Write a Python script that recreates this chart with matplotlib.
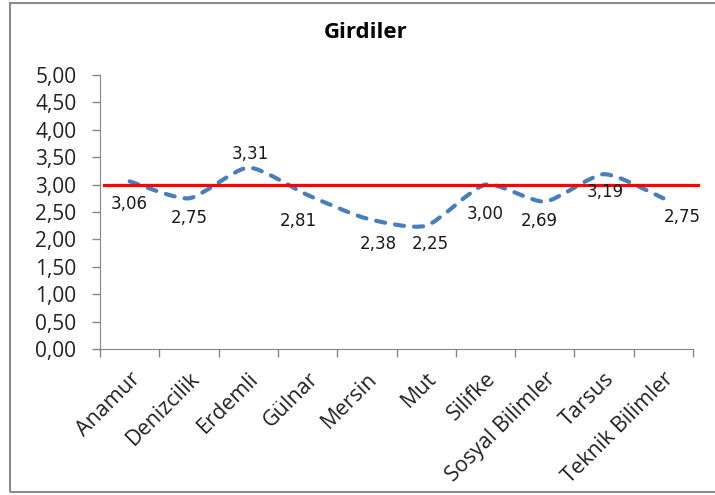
import matplotlib
matplotlib.use('Agg')
import matplotlib.pyplot as plt
from matplotlib.path import Path
from matplotlib.patches import PathPatch, Rectangle
import numpy as np

# data
categories = ['Anamur', 'Denizcilik', 'Erdemli', 'Gülnar', 'Mersin', 'Mut',
              'Silifke', 'Sosyal Bilimler', 'Tarsus', 'Teknik Bilimler']
values = [3.06, 2.75, 3.31, 2.81, 2.38, 2.25, 3.00, 2.69, 3.19, 2.75]
reference = 3.00
yticks = [0.0, 0.5, 1.0, 1.5, 2.0, 2.5, 3.0, 3.5, 4.0, 4.5, 5.0]

# label offsets (pixels) as placed in the original chart
label_offsets = [(0, -23), (0, -20), (2, 14), (-9, -26), (11, -25),
                 (4, -18), (0, -29), (-5, -19), (1, -18), (19, -19)]

plt.rcParams['font.family'] = ['Open Sans', 'DejaVu Sans']

fig = plt.figure(figsize=(7.15, 4.95), dpi=100)
fig.patches.append(Rectangle((10 / 715, 3 / 495), 1.0, 1 - 6 / 495,
                             transform=fig.transFigure, fill=False,
                             edgecolor='#8c8c8c', linewidth=1.5))
ax = fig.add_axes([100 / 715, 1 - 349 / 495, 593 / 715, 274 / 495])

x = np.arange(len(values))
y = np.array(values)

# smoothed line: bezier segments through the data points
k = 9.0
verts = [(x[0], y[0])]
codes = [Path.MOVETO]
for i in range(len(x) - 1):
    p0 = (x[i - 1], y[i - 1]) if i > 0 else (x[i], y[i])
    p1 = (x[i], y[i])
    p2 = (x[i + 1], y[i + 1])
    p3 = (x[i + 2], y[i + 2]) if i + 2 < len(x) else (x[i + 1], y[i + 1])
    c1 = (p1[0] + (p2[0] - p0[0]) / k, p1[1] + (p2[1] - p0[1]) / k)
    c2 = (p2[0] - (p3[0] - p1[0]) / k, p2[1] - (p3[1] - p1[1]) / k)
    verts += [c1, c2, p2]
    codes += [Path.CURVE4] * 3
ax.add_patch(PathPatch(Path(verts, codes), fill=False, edgecolor='#4a7ebb',
                       linewidth=3.0, linestyle=(0, (2.2, 2.4)),
                       capstyle='round', zorder=3))

ax.plot([-0.43, 9.58], [reference, reference], color='#ff0000',
        linewidth=2.3, zorder=4, clip_on=False)

for xi, v, off in zip(x, values, label_offsets):
    ax.annotate(f'{v:.2f}'.replace('.', ','), (xi, v), xytext=off,
                textcoords='offset pixels', ha='center', va='center',
                fontsize=12, family='DejaVu Sans', color='#1a1a1a', zorder=5)

ax.set_xlim(-0.5, 9.5)
ax.set_ylim(0, 5)
ax.set_yticks(yticks)
ax.set_yticklabels([f'{t:.2f}'.replace('.', ',') for t in yticks], fontsize=15,
                   color='#222222')
ax.set_xticks(x)
ax.set_xticklabels(categories, rotation=45, ha='right', rotation_mode='anchor',
                   fontsize=15.5, color='#222222')
ax.set_xticks(np.arange(-0.5, len(values)), minor=True)
ax.tick_params(axis='x', which='major', length=0, pad=14)
ax.tick_params(axis='x', which='minor', length=6, color='#868686', width=1)
ax.tick_params(axis='y', length=6, color='#868686', width=1, pad=11)

for s in ['top', 'right']:
    ax.spines[s].set_visible(False)
for s in ['left', 'bottom']:
    ax.spines[s].set_color('#868686')

fig.text(366 / 715, 1 - 33 / 495, 'Girdiler', ha='center', va='center',
         fontsize=16, fontweight='bold')

fig.savefig('out.png', dpi=100)
